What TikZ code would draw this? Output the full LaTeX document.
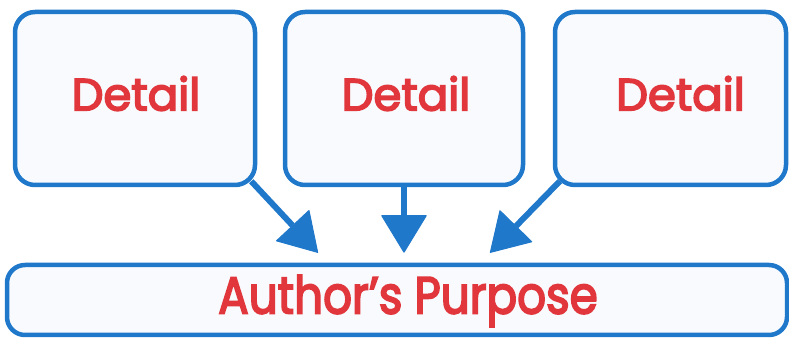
\documentclass[tikz,border=0pt]{standalone}
\usepackage{fontspec}
\newfontfamily\popfont{Poppins}[FakeBold=3.6]
\usetikzlibrary{arrows.meta,calc}
\definecolor{bblue}{HTML}{1F78CA}
\definecolor{rred}{HTML}{E0363C}
\definecolor{pale}{HTML}{F8FAFD}
\tikzset{
  box/.style={draw=bblue, line width=4.5pt, fill=pale, rounded corners=20pt, inner sep=0pt},
  lbl/.style={text=rred, font=\popfont\fontsize{45}{50}\selectfont},
  arr/.style={draw=bblue, line width=6pt, -{Triangle[width=46pt,length=38pt,line width=1pt,round]}}
}
\begin{document}
\begin{tikzpicture}[x=1pt,y=1pt]
\useasboundingbox (0,0) rectangle (789,342);
\node[box, minimum width=240pt, minimum height=173pt] (d1) at (135,243.5) {};
\node[box, minimum width=238pt, minimum height=173pt] (d2) at (404,243.5) {};
\node[box, minimum width=231pt, minimum height=173pt] (d3) at (670.5,243.5) {};
\node[box, minimum width=780pt, minimum height=70pt, rounded corners=18pt] (ap) at (397,42) {};
\node[lbl] (t1) at ($(d1.center)+(1,5)$) {Detail};
\node[lbl] (t2) at ($(d2.center)+(2,5)$) {Detail};
\node[lbl] (t3) at ($(d3.center)+(10,5)$) {Detail};
\node[lbl, font=\popfont\fontsize{52}{56}\selectfont] (t4) at ($(ap.center)+(11,-1)$) {\scalebox{0.87}[1]{Author’s Purpose}};
\draw[arr] ($(d1.south east)+(-6,6)$) -- ($(ap.north)+(-79,10)$);
\draw[arr] (d2.south) -- ($(ap.north)+(7,10)$);
\draw[arr] ($(d3.south west)+(7,6)$) -- ($(ap.north)+(93,10)$);
\end{tikzpicture}
\end{document}
